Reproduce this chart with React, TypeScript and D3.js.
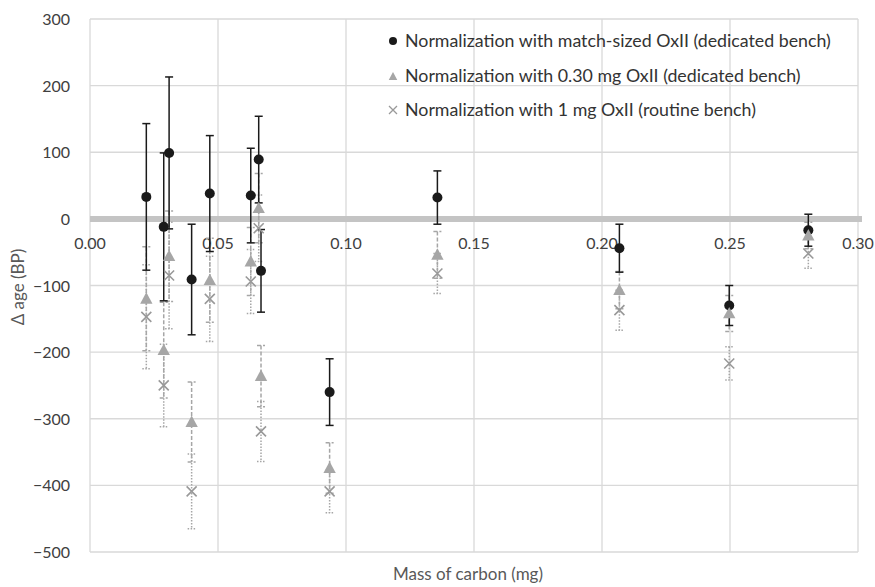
import React from 'react';
import * as d3 from 'd3';

// mass of carbon (mg) for each sample
const mass = [0.022, 0.0288, 0.0309, 0.0397, 0.0468, 0.0628, 0.0659, 0.0668, 0.0936, 0.1357, 0.2068, 0.2497, 0.2806];

// normalization with match-sized OxII (dedicated bench)
const matchAge = [33, -12, 99, -91, 38, 35, 89, -78, -260, 32, -44, -130, -17];
const matchErr = [110, 111, 114, 83, 87, 71, 65, 62, 50, 40, 36, 30, 24];

// normalization with 0.30 mg OxII (dedicated bench)
const fixedAge = [-120, -197, -56, -305, -92, -64, 16, -236, -374, -54, -107, -142, -25];
const fixedErr = [78, 72, 68, 60, 63, 51, 52, 46, 38, 35, 28, 27, 20];

// normalization with 1 mg OxII (routine bench)
const routineAge = [-147, -250, -85, -409, -120, -94, -14, -319, -409, -82, -137, -217, -52];
const routineErr = [78, 62, 80, 56, 64, 48, 50, 45, 32, 30, 30, 25, 22];

const xTicks = [0, 0.05, 0.1, 0.15, 0.2, 0.25, 0.3];
const yTicks = [300, 200, 100, 0, -100, -200, -300, -400, -500];

const legendLabels = [
  'Normalization with match-sized OxII (dedicated bench)',
  'Normalization with 0.30 mg OxII (dedicated bench)',
  'Normalization with 1 mg OxII (routine bench)',
];

const W = 875;
const H = 587;
const FONT = 'Lato, "Open Sans", sans-serif';

const x = d3.scaleLinear().domain([0, 0.3]).range([90, 858]);
const y = d3.scaleLinear().domain([-500, 300]).range([552, 19]);

const fmtY = (v: number) => (v < 0 ? '\u2212' + Math.abs(v) : String(v));

const ErrorBars = ({ ages, errs, stroke, dash, width }: any) => (
  <g stroke={stroke} strokeWidth={width} strokeDasharray={dash} fill="none">
    {mass.map((m, i) => {
      const cx = x(m);
      const y0 = y(ages[i] + errs[i]);
      const y1 = y(ages[i] - errs[i]);
      return (
        <g key={i}>
          <line x1={cx} x2={cx} y1={y0} y2={y1} />
          <line x1={cx - 4} x2={cx + 4} y1={y0} y2={y0} />
          <line x1={cx - 4} x2={cx + 4} y1={y1} y2={y1} />
        </g>
      );
    })}
  </g>
);

const triPath = (cx: number, cy: number, s: number) =>
  `M${cx},${cy - s}L${cx + s * 0.95},${cy + s * 0.75}L${cx - s * 0.95},${cy + s * 0.75}Z`;

const crossPath = (cx: number, cy: number, s: number) =>
  `M${cx - s},${cy - s}L${cx + s},${cy + s}M${cx - s},${cy + s}L${cx + s},${cy - s}`;

export default function App() {
  return (
    <svg
      width={W}
      height={H}
      style={{ position: 'absolute', left: 0, top: 0, background: '#fff' }}
      fontFamily={FONT}
    >
      {/* grid */}
      <g stroke="#d9d9d9" strokeWidth={1.3}>
        {yTicks.map(t => (
          <line key={'h' + t} x1={x(0)} x2={x(0.3)} y1={y(t)} y2={y(t)} />
        ))}
        {xTicks.map(t => (
          <line key={'v' + t} x1={x(t)} x2={x(t)} y1={y(300)} y2={y(-500)} />
        ))}
      </g>
      <line x1={x(0)} x2={x(0.3) + 4} y1={y(0)} y2={y(0)} stroke="#c4c4c4" strokeWidth={6} />

      {/* y tick labels */}
      <g fontSize={16} fill="#404040" textAnchor="end">
        {yTicks.map(t => (
          <text key={t} x={70} y={y(t) + 6}>
            {fmtY(t)}
          </text>
        ))}
      </g>
      {/* x tick labels, sitting under the zero line */}
      <g fontSize={16} fill="#404040" textAnchor="middle">
        {xTicks.map(t => (
          <text key={t} x={x(t)} y={y(0) + 30}>
            {t.toFixed(2)}
          </text>
        ))}
      </g>

      <text x={468} y={580} fontSize={17} fill="#595959" textAnchor="middle">
        Mass of carbon (mg)
      </text>
      <text
        transform={`translate(24, 287) rotate(-90)`}
        fontSize={17}
        fill="#595959"
        textAnchor="middle"
      >
        Δ age (BP)
      </text>

      {/* error bars */}
      <ErrorBars ages={routineAge} errs={routineErr} stroke="#a6a6a6" dash="1.5,1.5" width={1.5} />
      <ErrorBars ages={fixedAge} errs={fixedErr} stroke="#a6a6a6" dash="4,2" width={1.5} />
      <ErrorBars ages={matchAge} errs={matchErr} stroke="#1a1a1a" dash={null} width={1.5} />

      {/* markers */}
      <g fill="#1a1a1a">
        {mass.map((m, i) => (
          <circle key={i} cx={x(m)} cy={y(matchAge[i])} r={5} />
        ))}
      </g>
      <g fill="#a6a6a6">
        {mass.map((m, i) => (
          <path key={i} d={triPath(x(m), y(fixedAge[i]), 6.5)} />
        ))}
      </g>
      <g stroke="#999" strokeWidth={1.6} fill="none">
        {mass.map((m, i) => (
          <path key={i} d={crossPath(x(m), y(routineAge[i]), 5)} />
        ))}
      </g>

      {/* legend */}
      <g fontSize={17.8} fill="#333">
        {legendLabels.map((lab, i) => {
          const ly = 41 + i * 34.5;
          return (
            <g key={i}>
              {i === 0 && <circle cx={393} cy={ly} r={4} fill="#1a1a1a" />}
              {i === 1 && <path d={triPath(393, ly + 1, 4.5)} fill="#a6a6a6" />}
              {i === 2 && <path d={crossPath(393, ly, 4)} stroke="#999" strokeWidth={1.3} fill="none" />}
              <text x={405} y={ly + 6}>
                {lab}
              </text>
            </g>
          );
        })}
      </g>
    </svg>
  );
}
